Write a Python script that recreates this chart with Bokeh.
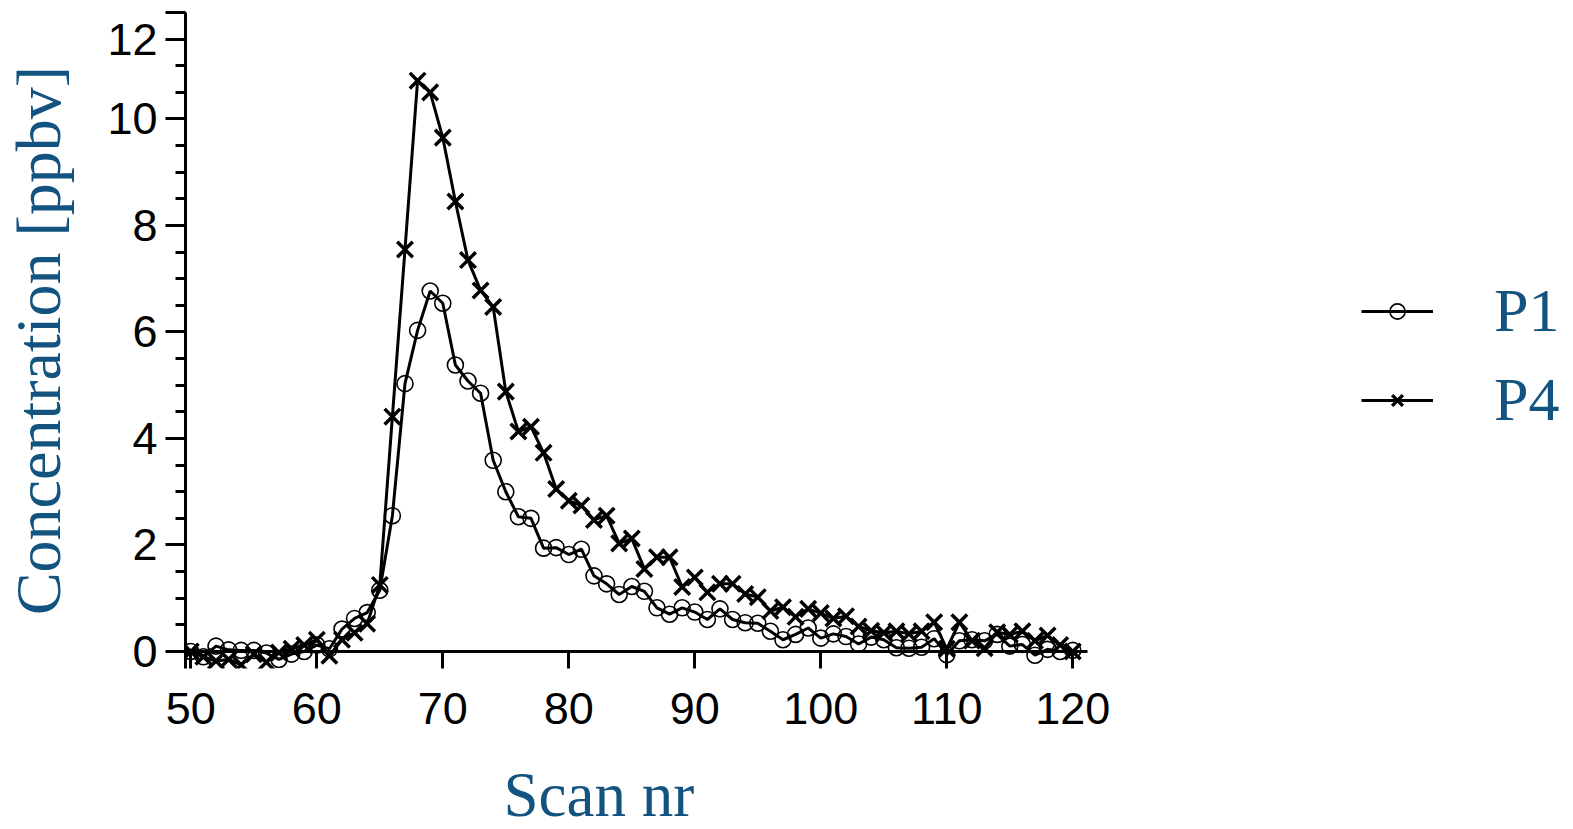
from bokeh.plotting import figure
from bokeh.models import Range1d, FixedTicker, Legend, LegendItem, Title
from bokeh.embed import file_html
from bokeh.resources import INLINE

# ---- data -------------------------------------------------------------
scan = list(range(50, 121))
p1 = [0.00, -0.10, 0.10, 0.03, 0.02, 0.02, -0.03, -0.15, -0.05, 0.00,
      0.12, 0.05, 0.42, 0.62, 0.73, 1.15, 2.55, 5.03, 6.03, 6.77,
      6.54, 5.38, 5.08, 4.85, 3.59, 3.00, 2.53, 2.50, 1.94, 1.95,
      1.82, 1.92, 1.42, 1.27, 1.07, 1.22, 1.13, 0.82, 0.70, 0.82,
      0.74, 0.60, 0.80, 0.60, 0.54, 0.53, 0.38, 0.22, 0.32, 0.44,
      0.25, 0.33, 0.28, 0.14, 0.27, 0.22, 0.07, 0.06, 0.08, 0.24,
      -0.06, 0.20, 0.22, 0.20, 0.32, 0.10, 0.13, -0.07, 0.04, 0.00,
      0.02]
p4 = [0.00, -0.10, -0.18, -0.15, -0.25, -0.05, -0.20, -0.02, 0.05, 0.12,
      0.22, -0.08, 0.22, 0.35, 0.52, 1.25, 4.41, 7.55, 10.72, 10.50,
      9.65, 8.45, 7.35, 6.78, 6.47, 4.88, 4.13, 4.22, 3.73, 3.05,
      2.83, 2.74, 2.47, 2.55, 2.03, 2.12, 1.55, 1.77, 1.77, 1.21,
      1.39, 1.11, 1.27, 1.27, 1.08, 1.02, 0.76, 0.83, 0.65, 0.80,
      0.72, 0.62, 0.66, 0.47, 0.39, 0.35, 0.38, 0.33, 0.38, 0.55,
      0.05, 0.55, 0.20, 0.06, 0.36, 0.32, 0.38, 0.20, 0.30, 0.12,
      0.00]
x_ticks = [50, 60, 70, 80, 90, 100, 110, 120]
y_ticks = [0, 2, 4, 6, 8, 10, 11.5, 12]
y_tick_labels = {11.5: "12", 12: " "}
y_minor = [i * 0.5 for i in range(0, 25)]
series_labels = ["P1", "P4"]
x_title = "Scan nr"
y_title = "Concentration [ppbv]"

# axis extents (the x axis line stops a little after the last tick)
X_START, X_VIEW_END, X_AXIS_END = 49.58, 159.74, 121.17
Y_START, Y_END = -0.32, 12.0

BLUE = "#12537f"
SANS = "Liberation Sans"
SERIF = "Liberation Serif"

p = figure(width=1573, height=829,
           x_range=Range1d(X_START, X_VIEW_END), y_range=Range1d(Y_START, Y_END),
           output_backend="svg", toolbar_location=None,
           min_border_left=185, min_border_right=0,
           min_border_top=12, min_border_bottom=161)
p.outline_line_color = None
p.xgrid.visible = False
p.ygrid.visible = False
p.background_fill_color = "white"
p.border_fill_color = "white"

# x axis (ticks + labels; the baseline itself is drawn at y = 0 below)
xa = p.xaxis[0]
xa.ticker = FixedTicker(ticks=x_ticks)
xa.bounds = (X_START, X_AXIS_END)
xa.axis_line_color = None
xa.major_tick_in = 17
xa.major_tick_out = 0
xa.major_tick_line_width = 3
xa.major_tick_line_color = "black"
xa.minor_tick_line_color = None
xa.major_label_text_font = SANS
xa.major_label_text_font_size = "45px"
xa.major_label_text_color = "black"
xa.major_label_standoff = 24
xa.axis_label = " "
xa.axis_label_text_font_size = "20px"
xa.axis_label_standoff = 6

# y axis
ya = p.yaxis[0]
ya.ticker = FixedTicker(ticks=y_ticks, minor_ticks=y_minor)
ya.axis_line_width = 3
ya.axis_line_color = "black"
ya.major_tick_in = 0
ya.major_tick_out = 20
ya.minor_tick_in = 0
ya.minor_tick_out = 10
ya.major_tick_line_width = 3
ya.minor_tick_line_width = 3
ya.major_tick_line_color = "black"
ya.minor_tick_line_color = "black"
ya.major_label_text_font = SANS
ya.major_label_text_font_size = "45px"
ya.major_label_text_color = "black"
ya.major_label_standoff = 8
ya.major_label_overrides = y_tick_labels
ya.axis_label = y_title
ya.axis_label_text_font = SERIF
ya.axis_label_text_font_size = "64px"
ya.axis_label_text_font_style = "normal"
ya.axis_label_text_color = BLUE
ya.axis_label_standoff = 30

# x axis baseline at y = 0
p.segment(x0=[X_START], y0=[0], x1=[X_AXIS_END], y1=[0],
          line_color="black", line_width=3)

# series
l1 = p.line(scan, p1, line_color="black", line_width=3)
s1 = p.scatter(scan, p1, marker="circle", size=16, fill_color=None,
               line_color="black", line_width=1.6)
l2 = p.line(scan, p4, line_color="black", line_width=3)
s2 = p.scatter(scan, p4, marker="x", size=22, line_color="black",
               line_width=3.5)

# x title
p.add_layout(Title(text=x_title, align="left", offset=318,
                   text_font=SERIF, text_font_size="63px",
                   text_font_style="normal", text_color=BLUE,
                   standoff=0), "below")

legend = Legend(items=[LegendItem(label=series_labels[0], renderers=[l1, s1]),
                       LegendItem(label=series_labels[1], renderers=[l2, s2])],
                location=(1176, 233),
                label_text_font=SERIF, label_text_font_size="62px",
                label_text_color=BLUE, glyph_width=72, glyph_height=38,
                label_standoff=61, spacing=18, padding=0, margin=0,
                border_line_color=None, background_fill_alpha=0)
p.add_layout(legend)

open("out.html", "w").write(file_html(p, INLINE))
